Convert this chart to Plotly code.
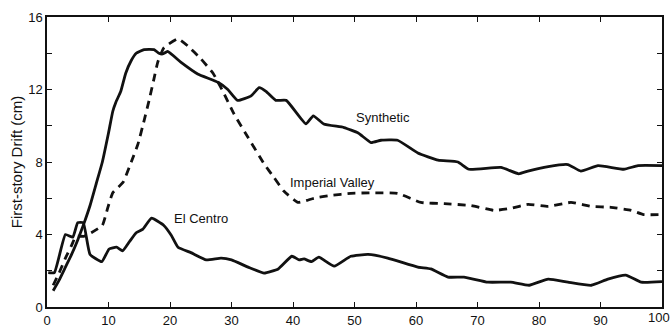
import plotly.graph_objects as go

# Drift time histories (time in s, drift in cm)
synthetic_t = [1, 2, 3, 4, 5, 6, 7, 8, 9, 10, 10.7, 11.2, 12, 12.8, 13.7, 14.5, 15.8, 17.4,
               18.2, 18.8, 19.6, 21.8, 24.5, 27.8, 29.4, 31, 33.2, 34.5, 35.6, 37.2, 38.9,
               42.1, 43.3, 45, 48.3, 50.6, 52.7, 54.3, 57, 60.3, 63.6, 66.8, 68.6, 73.8,
               76.7, 78.2, 81.5, 84.7, 86.8, 89.6, 93.8, 96.1, 100]
synthetic_d = [0.9, 1.5, 2.2, 2.9, 3.7, 4.6, 5.6, 6.8, 8.0, 9.6, 10.8, 11.3, 11.9, 12.9, 13.6,
               14.0, 14.2, 14.2, 14.0, 13.96, 14.1, 13.5, 12.86, 12.4, 12.0, 11.4, 11.65,
               12.1, 11.9, 11.4, 11.4, 10.1, 10.55, 10.1, 9.9, 9.6, 9.07, 9.2, 9.2, 8.5, 8.1,
               8.0, 7.6, 7.7, 7.35, 7.5, 7.75, 7.86, 7.5, 7.8, 7.6, 7.8, 7.8]

imperial_t = [1, 2, 3, 4, 4.7, 6, 7.2, 9, 9.9, 10.7, 12.4, 13.7, 14.8, 15.8, 16.6, 17.4, 18,
              19, 21.3, 22.9, 25, 27, 28.6, 30.4, 32.7, 35.3, 36.9, 38.5, 40.8, 43.4, 46.2,
              49.4, 52.7, 57, 60.8, 64.6, 68.9, 72.7, 75.4, 78.2, 81.5, 85.2, 88.5, 91.7,
              95, 97, 100]
imperial_d = [1.2, 1.9, 2.7, 3.4, 3.9, 3.9, 4.1, 4.5, 5.5, 6.3, 6.9, 8.0, 9.0, 10.3, 11.4,
              12.6, 13.5, 14.3, 14.8, 14.4, 13.7, 12.9, 11.9, 10.66, 9.35, 7.9, 7.15, 6.4,
              5.77, 6.0, 6.16, 6.27, 6.3, 6.27, 5.77, 5.7, 5.6, 5.33, 5.44, 5.66, 5.55, 5.77,
              5.55, 5.5, 5.33, 5.1, 5.1]

elcentro_t = [0.2, 1.2, 3.0, 4.2, 5.0, 5.9, 7.0, 8.9, 10.1, 11.3, 12.3, 13.4, 14.5, 15.6,
              17.0, 19.0, 20.2, 21.3, 23.4, 25.9, 28.3, 30, 32.7, 35.3, 37.6, 39.8, 41,
              41.8, 43, 44.2, 46.7, 49.4, 52.2, 55.4, 60.3, 62.4, 65.2, 67.8, 71.7, 75.4,
              78.4, 81.5, 84.7, 88.5, 91.2, 94.1, 96.6, 100]
elcentro_d = [1.9, 1.9, 4.0, 3.85, 4.65, 4.65, 2.9, 2.5, 3.2, 3.3, 3.1, 3.6, 4.1, 4.3, 4.9,
              4.5, 3.96, 3.3, 3.0, 2.6, 2.7, 2.6, 2.2, 1.87, 2.1, 2.8, 2.6, 2.65, 2.5, 2.75,
              2.25, 2.8, 2.9, 2.7, 2.2, 2.1, 1.65, 1.65, 1.37, 1.37, 1.2, 1.54, 1.37, 1.2,
              1.54, 1.76, 1.37, 1.4]

x_ticks = [0, 10, 20, 30, 40, 50, 60, 70, 80, 90, 100]
y_ticks = [0, 4, 8, 12, 16]

FONT = "Liberation Sans, Arial, Helvetica, sans-serif"
INK = "#111111"

fig = go.Figure()
line = dict(color=INK, width=2.8, shape="spline", smoothing=0.4)
fig.add_trace(go.Scatter(x=synthetic_t, y=synthetic_d, mode="lines", line=line,
                         name="Synthetic"))
fig.add_trace(go.Scatter(x=imperial_t, y=imperial_d, mode="lines",
                         line=dict(color=INK, width=2.8, dash="8px,6px",
                                   shape="spline", smoothing=0.4),
                         name="Imperial Valley"))
fig.add_trace(go.Scatter(x=elcentro_t, y=elcentro_d, mode="lines", line=line,
                         name="El Centro"))

labels = [("Synthetic", 54.6, 10.45), ("Imperial Valley", 46.5, 6.87), ("El Centro", 25.0, 4.9)]
for text, lx, ly in labels:
    fig.add_annotation(x=lx, y=ly, text=text, showarrow=False,
                       font=dict(family=FONT, size=13, color=INK))

# the last x label sits against the right page edge, so it is drawn nudged inward
x_text = [str(v) for v in x_ticks]
last_label = x_text[-1]
x_text[-1] = ""
fig.add_annotation(x=x_ticks[-1], xref="x", y=0, yref="paper", yanchor="top",
                   text=last_label, showarrow=False, xshift=-3, yshift=-1,
                   font=dict(family=FONT, size=13, color=INK))

axis_common = dict(
    showgrid=False, zeroline=False, showline=True, linecolor=INK, linewidth=1.5,
    mirror="ticks", ticks="inside", ticklen=5, tickwidth=1.3, tickcolor=INK,
    tickfont=dict(family=FONT, size=13, color=INK), automargin=False,
)

fig.update_xaxes(range=[0, 100], tickvals=x_ticks, ticktext=x_text,
                 ticklabeloverflow="allow", ticklabelstandoff=1, **axis_common)
fig.update_yaxes(range=[0, 16], tickvals=y_ticks, ticktext=[str(v) for v in y_ticks],
                 minor=dict(tickvals=[2, 6, 10, 14], ticks="inside", ticklen=5,
                            tickwidth=1.3, tickcolor=INK),
                 title=dict(text="First-story Drift (cm)", standoff=2,
                            font=dict(family=FONT, size=15, color=INK)),
                 **axis_common)

fig.update_layout(
    width=670, height=329,
    margin=dict(l=47, r=8, t=17, b=22),
    paper_bgcolor="white", plot_bgcolor="white",
    showlegend=False,
)

fig.write_html("out.html")
